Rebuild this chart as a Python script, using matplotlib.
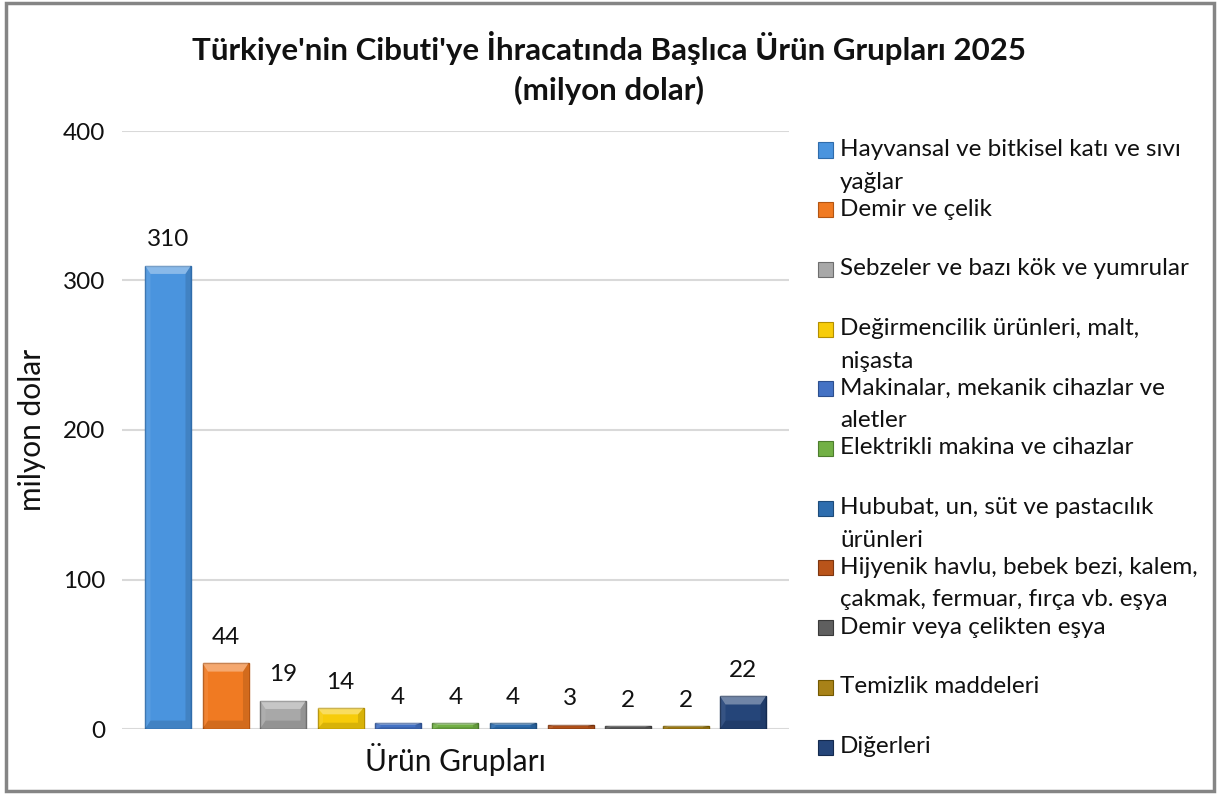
import matplotlib
matplotlib.use("Agg")
import matplotlib.pyplot as plt
from matplotlib.patches import Rectangle, Polygon
import numpy as np

plt.rcParams['font.family'] = ['Lato', 'DejaVu Sans']

categories = [
    "Hayvansal ve bitkisel katı ve sıvı\nyağlar",
    "Demir ve çelik",
    "Sebzeler ve bazı kök ve yumrular",
    "Değirmencilik ürünleri, malt,\nnişasta",
    "Makinalar, mekanik cihazlar ve\naletler",
    "Elektrikli makina ve cihazlar",
    "Hububat, un, süt ve pastacılık\nürünleri",
    "Hijyenik havlu, bebek bezi, kalem,\nçakmak, fermuar, fırça vb. eşya",
    "Demir veya çelikten eşya",
    "Temizlik maddeleri",
    "Diğerleri",
]
values = [310, 44, 19, 14, 4, 4, 4, 3, 2, 2, 22]
colors = ["#4A94DE", "#F07A22", "#A8A8A8", "#F7CC0A", "#4472C4", "#72B045",
          "#2E6DAE", "#B9541A", "#5F5F5F", "#A88218", "#254579"]
edge_colors = ["#2F6CAB", "#B35512", "#6E6E6E", "#B38F00", "#2D4F8E", "#4D7D2E",
               "#1D4B7A", "#7E3610", "#3A3A3A", "#735900", "#142A4F"]
yticks = [0, 100, 200, 300, 400]
title_lines = ["Türkiye'nin Cibuti'ye İhracatında Başlıca Ürün Grupları 2025", "(milyon dolar)"]

W, H = 1217, 794
fig = plt.figure(figsize=(W / 100, H / 100), dpi=100)
fig.patch.set_facecolor("white")
TXT = "#111111"

# outer border
fig.patches.append(Rectangle((6 / W, 3 / H), (1214 - 6) / W, (791 - 3) / H,
                             transform=fig.transFigure, fill=False,
                             edgecolor="#858585", linewidth=2.5))

ax = fig.add_axes([122 / W, 1 - 729 / H, (789 - 122) / W, (729 - 131) / H])
x = np.arange(len(values))
bars = ax.bar(x, values, width=0.8, color=colors, edgecolor=edge_colors,
              linewidth=1.0, zorder=3)

# bevel effect on each bar
for b, c in zip(bars, colors):
    x0, w, h = b.get_x(), b.get_width(), b.get_height()
    bev_x = w * 0.12
    bev_y = min(h * 0.3, 400 * 0.014)
    top = Polygon([(x0, h), (x0 + w, h), (x0 + w - bev_x, h - bev_y), (x0 + bev_x, h - bev_y)],
                  closed=True, facecolor="white", alpha=0.35, edgecolor="none", zorder=4)
    ax.add_patch(top)
    bot = Polygon([(x0, 0), (x0 + w, 0), (x0 + w - bev_x, bev_y), (x0 + bev_x, bev_y)],
                  closed=True, facecolor="black", alpha=0.12, edgecolor="none", zorder=4)
    ax.add_patch(bot)
    if h > 3 * bev_y:
        right = Polygon([(x0 + w, 0), (x0 + w, h), (x0 + w - bev_x, h - bev_y), (x0 + w - bev_x, bev_y)],
                        closed=True, facecolor="black", alpha=0.12, edgecolor="none", zorder=4)
        ax.add_patch(right)
        left = Polygon([(x0, 0), (x0, h), (x0 + bev_x, h - bev_y), (x0 + bev_x, bev_y)],
                       closed=True, facecolor="white", alpha=0.08, edgecolor="none", zorder=4)
        ax.add_patch(left)

for xi, v in zip(x, values):
    ax.annotate(f"{v}", (xi, v), xytext=(0, 11), textcoords="offset points",
                ha="center", va="bottom", fontsize=17.5, color=TXT)

ax.set_xlim(-0.8, 10.8)
ax.set_ylim(0, 400)
ax.set_yticks(yticks)
ax.set_yticklabels([str(t) for t in yticks], fontsize=17.5, color=TXT)
ax.set_xticks([])
ax.tick_params(axis="y", length=0, pad=12)
for s in ax.spines.values():
    s.set_visible(False)
ax.grid(axis="y", color="#D9D9D9", linewidth=1.5, zorder=0)
ax.set_ylabel("milyon dolar", fontsize=21.5, color=TXT, labelpad=12)
ax.set_xlabel("Ürün Grupları", fontsize=21.5, color=TXT, labelpad=10)

fig.text(0.5, 1 - 48 / H, title_lines[0], ha="center", va="center",
         fontsize=22.5, fontweight="bold", color=TXT)
fig.text(0.5, 1 - 90 / H, title_lines[1], ha="center", va="center",
         fontsize=22.5, fontweight="bold", color=TXT)

# legend
y0 = 150
step = (747 - 150) / 10
for i, (lab, c, ec) in enumerate(zip(categories, colors, edge_colors)):
    yc = y0 + i * step
    fig.patches.append(Rectangle((818 / W, 1 - (yc + 7.5) / H), 15 / W, 15 / H,
                                 transform=fig.transFigure, facecolor=c,
                                 edgecolor=ec, linewidth=0.8))
    fig.text(840 / W, 1 - (yc - 11) / H, lab, ha="left", va="top", fontsize=17.5,
             linespacing=1.68, color=TXT)

fig.savefig("out.png", dpi=100)
